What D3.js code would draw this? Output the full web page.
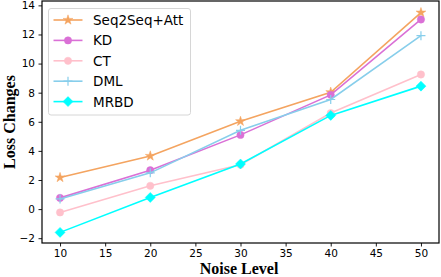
<!DOCTYPE html>
<html>
<head>
<meta charset="utf-8">
<script src="https://cdn.jsdelivr.net/npm/d3@7"></script>
<style>
  body { margin: 0; background: #fff; }
  svg { display: block; }
  .tick text { font-family: "DejaVu Sans", sans-serif; font-size: 10.5px; fill: #000; }
</style>
</head>
<body>
<div id="chart"></div>
<script>
const noiseLevels = [10, 20, 30, 40, 50];
const seq2seq = [2.17, 3.65, 6.03, 8.03, 13.5];
const kd = [0.77, 2.67, 5.1, 7.85, 13.03];
const ct = [-0.23, 1.6, 3.05, 6.6, 9.25];
const dml = [0.7, 2.49, 5.41, 7.53, 11.92];
const mrbd = [-1.6, 0.8, 3.1, 6.44, 8.45];
const xTicks = [10, 15, 20, 25, 30, 35, 40, 45, 50];
const yTicks = [-2, 0, 2, 4, 6, 8, 10, 12, 14];

const series = [
  { name: 'Seq2Seq+Att', values: seq2seq, color: '#f4a460', marker: 'star' },
  { name: 'KD', values: kd, color: '#da70d6', marker: 'circle' },
  { name: 'CT', values: ct, color: '#ffc0cb', marker: 'circle' },
  { name: 'DML', values: dml, color: '#87ceeb', marker: 'plus' },
  { name: 'MRBD', values: mrbd, color: '#00ffff', marker: 'diamond' }
];

const width = 441, height = 277;
const margin = { top: 1, right: 2, bottom: 34, left: 42 };

const svg = d3.select('#chart').append('svg')
  .attr('width', width)
  .attr('height', height);

const x = d3.scaleLinear().domain([8, 52]).range([margin.left, width - margin.right]);
const y = d3.scaleLinear().domain([-2.33, 14.3]).range([height - margin.bottom, margin.top]);

const markerPath = {
  star: d3.symbol().type(d3.symbolStar).size(30)(),
  circle: d3.symbol().type(d3.symbolCircle).size(42)(),
  plus: 'M-4.5,0H4.5M0,-4.5V4.5',
  diamond: 'M0,-5L5,0L0,5L-5,0Z'
};

const line = d3.line()
  .x((d, i) => x(noiseLevels[i]))
  .y(d => y(d));

series.forEach(s => {
  const g = svg.append('g');
  g.append('path')
    .attr('d', line(s.values))
    .attr('fill', 'none')
    .attr('stroke', s.color)
    .attr('stroke-width', 1.6);
  g.selectAll('.m')
    .data(s.values)
    .enter()
    .append('path')
    .attr('transform', (d, i) => `translate(${x(noiseLevels[i])},${y(d)})`)
    .attr('d', markerPath[s.marker])
    .attr('fill', s.marker === 'plus' ? 'none' : s.color)
    .attr('stroke', s.color)
    .attr('stroke-width', s.marker === 'plus' ? 1.2 : 0.5);
});

// axes
const xAxis = svg.append('g')
  .attr('transform', `translate(0,${height - margin.bottom})`)
  .call(d3.axisBottom(x).tickValues(xTicks).tickSize(3.5).tickPadding(3.5));
const yAxis = svg.append('g')
  .attr('transform', `translate(${margin.left},0)`)
  .call(d3.axisLeft(y).tickValues(yTicks).tickSize(3.5).tickPadding(3.5)
    .tickFormat(d => d < 0 ? '\u2212' + Math.abs(d) : d));
[xAxis, yAxis].forEach(a => {
  a.select('.domain').remove();
  a.selectAll('.tick line').attr('stroke', '#000').attr('stroke-width', 0.9);
});

// frame
svg.append('rect')
  .attr('x', margin.left)
  .attr('y', margin.top)
  .attr('width', width - margin.left - margin.right)
  .attr('height', height - margin.top - margin.bottom)
  .attr('fill', 'none')
  .attr('stroke', '#000')
  .attr('stroke-width', 1.2);

// axis titles
svg.append('text')
  .attr('x', 239)
  .attr('y', 274)
  .attr('text-anchor', 'middle')
  .style('font-family', '"Liberation Serif", "Times New Roman", serif')
  .style('font-weight', 'bold')
  .style('font-size', '16px')
  .text('Noise Level');

svg.append('text')
  .attr('transform', 'translate(15,122) rotate(-90)')
  .attr('text-anchor', 'middle')
  .style('font-family', '"Liberation Serif", "Times New Roman", serif')
  .style('font-weight', 'bold')
  .style('font-size', '16px')
  .text('Loss Changes');

// legend
const legend = svg.append('g');
legend.append('rect')
  .attr('x', 48.5)
  .attr('y', 8.5)
  .attr('width', 142)
  .attr('height', 106.5)
  .attr('rx', 2.5)
  .attr('fill', '#fff')
  .attr('fill-opacity', 0.8)
  .attr('stroke', '#d6d6d6')
  .attr('stroke-width', 1);

series.forEach((s, i) => {
  const ly = 20 + i * 20.4;
  legend.append('line')
    .attr('x1', 53.5).attr('x2', 82.5)
    .attr('y1', ly).attr('y2', ly)
    .attr('stroke', s.color)
    .attr('stroke-width', 1.6);
  legend.append('path')
    .attr('transform', `translate(68,${ly})`)
    .attr('d', markerPath[s.marker])
    .attr('fill', s.marker === 'plus' ? 'none' : s.color)
    .attr('stroke', s.color)
    .attr('stroke-width', s.marker === 'plus' ? 1.2 : 0.5);
  legend.append('text')
    .attr('x', 93)
    .attr('y', ly + 5)
    .style('font-family', '"DejaVu Sans", sans-serif')
    .style('font-size', '13.5px')
    .text(s.name);
});
</script>
</body>
</html>
